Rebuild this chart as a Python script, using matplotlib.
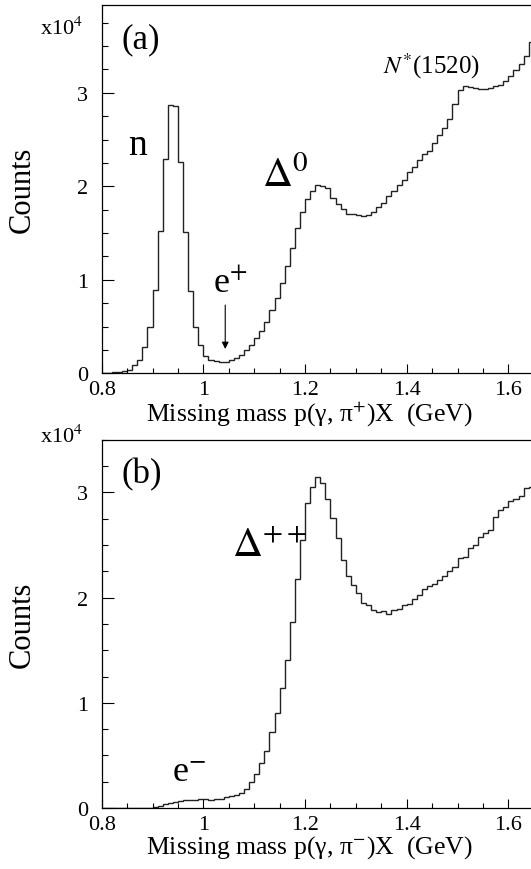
import numpy as np
import matplotlib
matplotlib.use('Agg')
import matplotlib.pyplot as plt
from matplotlib.ticker import MultipleLocator, FixedLocator

plt.rcParams['font.family'] = ['Liberation Serif', 'DejaVu Serif']
plt.rcParams['mathtext.fontset'] = 'stix'

# histogram: 10 MeV bins from 0.80 to 1.65 GeV, counts in units of 1e4
bin_lo = 0.80
bin_w = 0.01

counts_pip = [0.00, 0.005, 0.01, 0.015, 0.025, 0.04, 0.09, 0.146, 0.28, 0.50,
              0.895, 1.52, 2.29, 2.87, 2.86, 2.26, 1.51, 0.88, 0.50, 0.30,
              0.19, 0.146, 0.13, 0.125, 0.125, 0.14, 0.16, 0.196, 0.25, 0.30,
              0.375, 0.455, 0.545, 0.68, 0.80, 0.97, 1.15, 1.34, 1.55, 1.72,
              1.865, 1.95, 2.015, 2.005, 1.98, 1.88, 1.81, 1.76, 1.70, 1.70,
              1.69, 1.68, 1.69, 1.73, 1.775, 1.82, 1.90, 1.95, 2.01, 2.07,
              2.15, 2.21, 2.28, 2.35, 2.38, 2.46, 2.55, 2.62, 2.72, 2.88,
              3.03, 3.07, 3.06, 3.05, 3.04, 3.04, 3.05, 3.07, 3.08, 3.13,
              3.18, 3.24, 3.31, 3.39, 3.54]

counts_pim = [0, 0, 0, 0, 0, 0, 0, 0, 0, 0,
              0.006, 0.02, 0.035, 0.05, 0.06, 0.067, 0.073, 0.076, 0.08, 0.082,
              0.082, 0.08, 0.085, 0.09, 0.10, 0.11, 0.125, 0.14, 0.18, 0.245,
              0.32, 0.43, 0.545, 0.72, 0.90, 1.14, 1.41, 1.765, 2.18, 2.55,
              2.90, 3.05, 3.15, 3.09, 2.94, 2.76, 2.57, 2.36, 2.21, 2.12,
              2.04, 1.95, 1.925, 1.885, 1.86, 1.875, 1.845, 1.88, 1.89, 1.93,
              1.935, 1.99, 2.025, 2.08, 2.11, 2.13, 2.17, 2.21, 2.25, 2.29,
              2.38, 2.39, 2.47, 2.50, 2.58, 2.61, 2.645, 2.77, 2.83, 2.86,
              2.92, 2.94, 2.97, 3.04, 3.05]

xlabels = ['Missing mass p(\u03b3, \u03c0$^{+}$)X  (GeV)',
           'Missing mass p(\u03b3, \u03c0$^{-}$)X  (GeV)']

fig = plt.figure(figsize=(5.31, 8.70), dpi=100)

W, H = 531.0, 870.0
left = 101.7 / W
width = (533.8 - 101.7) / W
ax_a = fig.add_axes([left, 1 - 374.3 / H, width, (374.3 - 5.7) / H])
ax_b = fig.add_axes([left, 1 - 809.0 / H, width, (809.0 - 440.7) / H])


def style_axis(ax, data, ymax, xlabel):
    vals = np.array(data) * 1e4
    edges = bin_lo + bin_w * np.arange(len(vals) + 1)
    ax.stairs(vals, edges, color='#222222', lw=1.0)
    ax.set_xlim(0.8, 1.65)
    ax.set_ylim(0, ymax)
    ax.spines['right'].set_visible(False)
    for s in ax.spines.values():
        s.set_linewidth(0.9)
    ax.xaxis.set_major_locator(FixedLocator([0.8, 1.0, 1.2, 1.4, 1.6]))
    ax.xaxis.set_minor_locator(MultipleLocator(0.05))
    ax.set_xticklabels(['0.8', '1', '1.2', '1.4', '1.6'])
    ax.yaxis.set_major_locator(FixedLocator([0, 1e4, 2e4, 3e4]))
    ax.yaxis.set_minor_locator(MultipleLocator(2500))
    ax.set_yticklabels(['0', '1', '2', '3'])
    ax.tick_params(axis='x', which='major', direction='in', length=6.5, width=0.8,
                   labelsize=16, pad=5, top=False)
    ax.tick_params(axis='x', which='minor', direction='in', length=3.3, width=0.8, top=False)
    ax.tick_params(axis='y', which='major', direction='in', length=8.5, width=0.8,
                   labelsize=16, pad=10, right=False)
    ax.tick_params(axis='y', which='minor', direction='in', length=4.5, width=0.8, right=False)
    ax.set_xlabel(xlabel, fontsize=18.5)
    ax.xaxis.set_label_coords(0.48, -0.068)
    ax.set_ylabel('Counts', fontsize=22)
    ax.yaxis.set_label_coords(-0.15, 0.5)


style_axis(ax_a, counts_pip, 3.942e4, xlabels[0])
style_axis(ax_b, counts_pim, 3.501e4, xlabels[1])

# x10^4 multipliers
fig.text(83 / W, 1 - 35 / H, 'x10$^{4}$', fontsize=16, ha='right', va='baseline')
fig.text(83 / W, 1 - 443 / H, 'x10$^{4}$', fontsize=16, ha='right', va='baseline')

# panel (a) annotations
ax_a.text(0.8396, 3.575e4, '(a)', fontsize=25, ha='left', va='center')
ax_a.text(0.8517, 2.345e4, 'n', fontsize=27, ha='left', va='baseline')
ax_a.text(1.1154, 2.0e4, r'$\Delta^{0}$', fontsize=30, ha='left', va='baseline')
ax_a.text(1.019, 0.87e4, 'e$^{+}$', fontsize=26, ha='left', va='baseline')
ax_a.text(1.3534, 3.22e4, r'$N^{*}$(1520)', fontsize=18, ha='left', va='baseline')
ax_a.annotate('', xy=(1.043, 0.26e4), xytext=(1.043, 0.73e4),
              arrowprops=dict(arrowstyle='-|>', color='black', lw=0.8,
                              mutation_scale=10, shrinkA=0, shrinkB=0))

# panel (b) annotations
ax_b.text(0.8396, 3.175e4, '(b)', fontsize=25, ha='left', va='center')
ax_b.text(1.0567, 2.395e4, r'$\Delta^{++}$', fontsize=30, ha='left', va='baseline')
ax_b.text(0.9383, 0.257e4, 'e$^{-}$', fontsize=26, ha='left', va='baseline')

fig.savefig('out.png', dpi=100)
